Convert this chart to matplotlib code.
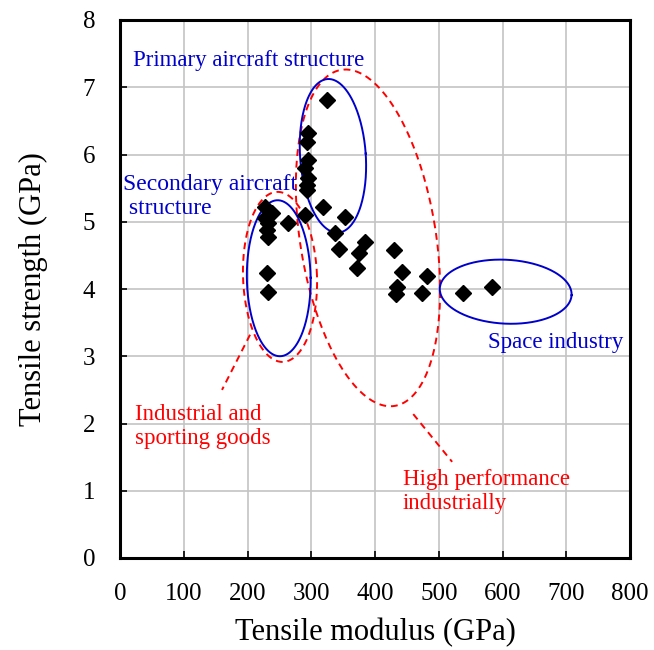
"""Tensile strength vs tensile modulus of carbon fibres, grouped by application."""

import numpy as np
import matplotlib
matplotlib.use('Agg')
import matplotlib.pyplot as plt

plt.rcParams['font.family'] = ['Liberation Serif', 'DejaVu Serif']

# fibre grades: tensile modulus (GPa) and tensile strength (GPa)
modulus = [228, 238, 227, 232, 230, 232, 264, 230, 232,
           324, 295, 293, 295, 290, 295, 293, 293, 319, 290, 353,
           337, 343, 384, 375, 372,
           430, 442, 481, 434, 433, 474, 538, 583]
strength = [5.22, 5.13, 5.05, 4.98, 4.88, 4.78, 4.98, 4.24, 3.96,
            6.81, 6.32, 6.19, 5.92, 5.80, 5.65, 5.55, 5.47, 5.22, 5.10, 5.07,
            4.83, 4.60, 4.70, 4.53, 4.31,
            4.58, 4.26, 4.19, 4.03, 3.92, 3.94, 3.94, 4.03]

x_ticks = [0, 100, 200, 300, 400, 500, 600, 700, 800]
y_ticks = [0, 1, 2, 3, 4, 5, 6, 7, 8]

BLUE = '#0000CC'
RED = '#FF0000'

# axes box in pixels, used to keep the ellipses round on screen
PX_X = 510 / 800.
PX_Y = 538 / 8.


def ellipse(ax, cx, cy, w, h, angle, **kw):
    """Draw an ellipse given in data units, rotated (deg) in screen space."""
    t = np.linspace(0, 2 * np.pi, 300)
    u = 0.5 * w * PX_X * np.cos(t)
    v = 0.5 * h * PX_Y * np.sin(t)
    a = np.radians(angle)
    ur = u * np.cos(a) - v * np.sin(a)
    vr = u * np.sin(a) + v * np.cos(a)
    ax.plot(cx + ur / PX_X, cy + vr / PX_Y, **kw)


fig = plt.figure(figsize=(6.54, 6.50), dpi=100)
ax = fig.add_axes([120 / 654., 92 / 650., 510 / 654., 538 / 650.])

ax.grid(True, color='#C4C4C4', linewidth=1.2)
ax.set_axisbelow(True)

dash = dict(color=RED, linewidth=1.4, linestyle=(0, (3.5, 2.5)))
solid = dict(color=BLUE, linewidth=1.4)

ellipse(ax, 389, 4.76, 213, 5.06, 9, **dash)       # high performance
ellipse(ax, 251, 4.18, 116, 2.53, 2, **dash)       # industrial / sporting
ellipse(ax, 334, 5.98, 103, 2.29, 4, **solid)      # primary aircraft
ellipse(ax, 249, 4.16, 100, 2.32, 1, **solid)      # secondary aircraft
ellipse(ax, 605, 3.96, 207, 0.95, -3, **solid)     # space industry

# leader lines to the red labels
ax.plot([204, 160], [3.32, 2.50], **dash)
ax.plot([460, 521], [2.14, 1.43], **dash)

ax.plot(modulus, strength, 'D', color='black', markersize=8.5, zorder=5)

fs = 16.5
ax.text(20, 7.40, 'Primary aircraft structure', color=BLUE, fontsize=fs,
        va='center')
ax.text(4.7, 5.38, 'Secondary aircraft\n structure', color=BLUE, fontsize=17,
        va='center')
ax.text(577, 3.20, 'Space industry', color=BLUE, fontsize=fs, va='center')
ax.text(23.5, 1.95, 'Industrial and\nsporting goods', color=RED, fontsize=fs,
        va='center')
ax.text(444, 0.99, 'High performance\nindustrially', color=RED, fontsize=fs,
        va='center')

ax.set_xlim(0, 800)
ax.set_ylim(0, 8)
ax.set_xticks(x_ticks)
ax.set_yticks(y_ticks)
ax.tick_params(direction='in', length=5, width=1.2, labelsize=18,
               top=False, right=False)
ax.tick_params(axis='x', pad=18)
ax.tick_params(axis='y', pad=18)
for s in ax.spines.values():
    s.set_linewidth(2.2)

ax.set_xlabel('Tensile modulus (GPa)', fontsize=22, labelpad=9)
ax.set_ylabel('Tensile strength (GPa)', fontsize=22, labelpad=25)

fig.savefig('out.png', dpi=100)
